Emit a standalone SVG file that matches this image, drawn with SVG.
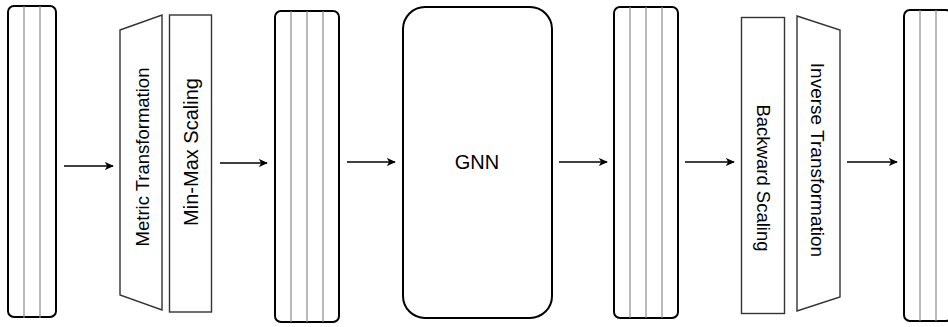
<svg xmlns="http://www.w3.org/2000/svg" width="948" height="327" viewBox="0 0 948 327">
  <defs>
    <marker id="arrow" viewBox="0 0 10 10" refX="9" refY="5" markerWidth="9" markerHeight="9" markerUnits="userSpaceOnUse" orient="auto">
      <path d="M0,0.5 L10,5 L0,9.5 L2.5,5 Z" fill="#000"/>
    </marker>
  </defs>
  <style>
    .tensor { fill: #fff; stroke: #000; stroke-width: 2; }
    .col { stroke: #8a8a8a; stroke-width: 1.2; }
    .op { fill: #fff; stroke: #333; stroke-width: 1.4; }
    .gnn { fill: #fff; stroke: #000; stroke-width: 2; }
    .edge { stroke: #000; stroke-width: 1.3; fill: none; marker-end: url(#arrow); }
    .label { font-family: "Liberation Sans", Arial, sans-serif; font-size: 18.5px; fill: #000; text-anchor: middle; dominant-baseline: central; }
  </style>

  <!-- input feature tensor -->
  <g id="input">
    <rect class="tensor" x="8" y="6" width="48" height="311" rx="6"/>
    <line class="col" x1="24" y1="6" x2="24" y2="318"/>
    <line class="col" x1="40" y1="6" x2="40" y2="318"/>
  </g>

  <g id="metric-transformation">
    <polygon class="op" points="120,30 162,15 162,310 120,295"/>
    <text class="label" transform="translate(142,157) rotate(-90)">Metric Transformation</text>
  </g>

  <g id="min-max-scaling">
    <rect class="op" x="169.5" y="15" width="42" height="297"/>
    <text class="label" transform="translate(191,152) rotate(-90)" style="font-size:20px">Min-Max Scaling</text>
  </g>

  <!-- scaled tensor -->
  <g id="scaled">
    <rect class="tensor" x="275" y="11" width="64" height="311" rx="6"/>
    <line class="col" x1="291" y1="11" x2="291" y2="322"/>
    <line class="col" x1="307" y1="11" x2="307" y2="322"/>
    <line class="col" x1="323" y1="11" x2="323" y2="322"/>
  </g>

  <g id="gnn">
    <rect class="gnn" x="403" y="7" width="149" height="311" rx="22"/>
    <text class="label" x="477" y="162" style="font-size:20px">GNN</text>
  </g>

  <!-- predicted tensor -->
  <g id="prediction">
    <rect class="tensor" x="614" y="7" width="64" height="311" rx="6"/>
    <line class="col" x1="630" y1="7" x2="630" y2="318"/>
    <line class="col" x1="646" y1="7" x2="646" y2="318"/>
    <line class="col" x1="662" y1="7" x2="662" y2="318"/>
  </g>

  <g id="backward-scaling">
    <rect class="op" x="741.5" y="17.5" width="43" height="296"/>
    <text class="label" transform="translate(763,178) rotate(90)">Backward Scaling</text>
  </g>

  <g id="inverse-transformation">
    <polygon class="op" points="797,16 840,30 840,297 797,311"/>
    <text class="label" transform="translate(817,160) rotate(90)" style="font-size:19px">Inverse Transformation</text>
  </g>

  <!-- output tensor -->
  <g id="output">
    <rect class="tensor" x="904" y="10" width="48" height="311" rx="6"/>
    <line class="col" x1="920" y1="10" x2="920" y2="321"/>
    <line class="col" x1="936" y1="10" x2="936" y2="321"/>
  </g>

  <g id="connectors">
    <line class="edge" x1="64" y1="166" x2="113" y2="166"/>
    <line class="edge" x1="220" y1="163" x2="267" y2="163"/>
    <line class="edge" x1="347" y1="162" x2="395" y2="162"/>
    <line class="edge" x1="559" y1="162" x2="607" y2="162"/>
    <line class="edge" x1="685" y1="162" x2="734" y2="162"/>
    <line class="edge" x1="847" y1="162" x2="897" y2="162"/>
  </g>
</svg>
